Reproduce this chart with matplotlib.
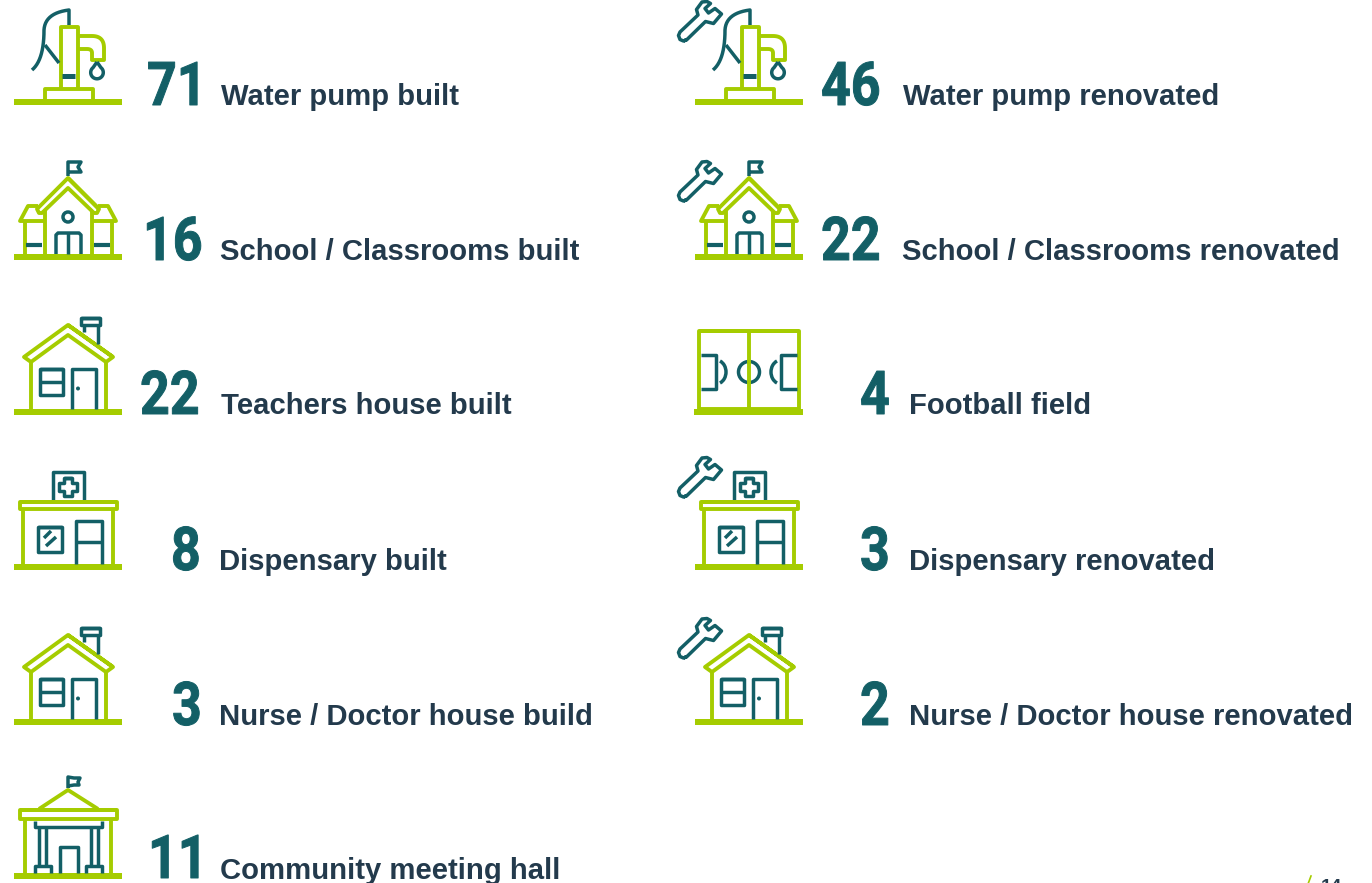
import numpy as np
import matplotlib
matplotlib.use("Agg")
import matplotlib.pyplot as plt
from matplotlib.patches import Circle, Arc, Rectangle
from matplotlib.patheffects import AbstractPathEffect
from matplotlib.transforms import Affine2D

# данные
LEFT_COUNTS = ["71", "16", "22", "8", "3", "11"]
LEFT_LABELS = ["Water pump built", "School / Classrooms built", "Teachers house built",
               "Dispensary built", "Nurse / Doctor house build", "Community meeting hall"]
RIGHT_COUNTS = ["46", "22", "4", "3", "2"]
RIGHT_LABELS = ["Water pump renovated", "School / Classrooms renovated", "Football field",
                "Dispensary renovated", "Nurse / Doctor house renovated"]
PAGE_NO = "14"

# положение текста (пиксели)
ROW_Y = [105, 260, 414, 570, 725, 879]
LEFT_NUM_X = [147, 143, 140, 171, 172, 148]
LEFT_LAB_X = [221, 220, 221, 219, 219, 220]
RIGHT_NUM_X = [821, 821, 860, 860, 860]
RIGHT_LAB_X = [903, 902, 909, 909, 909]

GREEN = "#a5cc00"
TEAL = "#135f66"
DARK = "#233a4c"
LW_G = 2.8
LW_T = 2.5
NUM_FONT = ["Roboto", "Liberation Sans", "DejaVu Sans"]
LAB_FONT = ["Liberation Sans", "DejaVu Sans"]
NUM_SIZE = 43.5
NUM_SQUEEZE = 0.86

fig = plt.figure(figsize=(13.72, 8.83), dpi=100)
ax = fig.add_axes([0, 0, 1, 1])
ax.set_xlim(0, 1372)
ax.set_ylim(883, 0)
ax.axis("off")


class Squeeze(AbstractPathEffect):
    # цифры в оригинале узкие, сжимаем текст по горизонтали
    def __init__(self, x_px, sx, width=0.7):
        super().__init__()
        self.x_px = x_px
        self.sx = sx
        self.width = width

    def draw_path(self, renderer, gc, tpath, affine, rgbFace):
        aff = affine + Affine2D().translate(-self.x_px, 0).scale(self.sx, 1).translate(self.x_px, 0)
        gc0 = renderer.new_gc()
        gc0.copy_properties(gc)
        gc0 = self._update_gc(gc0, {"linewidth": self.width, "foreground": rgbFace})
        renderer.draw_path(gc0, tpath, aff, rgbFace)
        gc0.restore()


def bez(p0, p1, p2, n=14):
    t = np.linspace(0, 1, n)[:, None]
    p0, p1, p2 = np.array(p0, float), np.array(p1, float), np.array(p2, float)
    return ((1 - t) ** 2 * p0 + 2 * t * (1 - t) * p1 + t ** 2 * p2).tolist()


def line(pts, dx=0, dy=0, color=TEAL, lw=LW_T, closed=False):
    pts = np.array(pts, dtype=float) + [dx, dy]
    if closed:
        pts = np.vstack([pts, pts[:2]])
    ax.plot(pts[:, 0], pts[:, 1], color=color, lw=lw, solid_capstyle="butt", solid_joinstyle="round")


def green(pts, dx=0, dy=0, closed=False):
    line(pts, dx, dy, GREEN, LW_G, closed)


def ground(y, x0=14, x1=122):
    ax.add_patch(Rectangle((x0, y - 6), x1 - x0, 6, fc=GREEN, ec="none"))


def ring(x, y, r, lw=LW_T, color=TEAL):
    ax.add_patch(Circle((x, y), r, fc="none", ec=color, lw=lw))


def wrench(y):
    # контур ключа в координатах правой колонки
    pts = [(687, 39.5), (683.5, 41), (680, 39.5), (678.5, 35.5), (680, 32), (698, 15), (696.5, 9.5), (702, 2),
           (707, 1.5), (710.5, 3.5), (705, 8.5), (708.5, 13), (715, 8.5), (721.5, 14), (713.5, 23.5), (705.5, 21.5)]
    line(pts, 0, y, closed=True)


def pump(dx, dy):
    ground(105 + dy, 14 + dx, 122 + dx)
    green([(45, 99), (45, 89), (93, 89), (93, 99)], dx, dy)
    green([(61, 89), (61, 27), (78, 27), (78, 89)], dx, dy)
    spout = [(78, 36), (92, 36)] + bez((92, 36), (104, 36), (104, 48)) + [(104, 60), (92, 60), (92, 53)] + bez((92, 53), (92, 49), (87, 49)) + [(78, 49)]
    green(spout, dx, dy)
    line([(62, 76), (75, 76)], dx, dy, lw=3.6)
    handle = [(69, 25), (69, 10)] + bez((69, 10), (45, 13), (44, 30)) + bez((44, 30), (44, 60), (32, 70))
    line(handle, dx, dy)
    line([(45, 45), (59, 63)], dx, dy)
    t = np.linspace(-0.9, np.pi + 0.9, 30)
    drop = [(97, 62)] + [(97 + 6.3 * np.cos(a), 72.5 + 6.3 * np.sin(a)) for a in t] + [(97, 62)]
    line(drop, dx, dy)


def school(dx, dy):
    ground(260 + dy, 14 + dx, 122 + dx)
    green([(68, 178), (99, 209), (97, 213), (94, 213), (68, 188), (42, 213), (39, 213), (37, 209)], dx, dy, closed=True)
    green([(45, 211), (45, 254)], dx, dy)
    green([(92, 211), (92, 254)], dx, dy)
    green([(38, 206), (28, 206), (20, 221), (44, 221)], dx, dy)
    green([(98, 206), (108, 206), (116, 221), (92, 221)], dx, dy)
    green([(25, 221), (25, 254)], dx, dy)
    green([(112, 221), (112, 254)], dx, dy)
    line([(26, 245), (42, 245)], dx, dy, lw=3)
    line([(94, 245), (110, 245)], dx, dy, lw=3)
    ring(68 + dx, 217 + dy, 5)
    line([(56, 254), (56, 235), (58, 233), (79, 233), (81, 235), (81, 254)], dx, dy)
    line([(68, 233), (68, 254)], dx, dy)
    line([(68, 176), (68, 162), (81, 162), (78, 167), (81, 172), (68, 172)], dx, dy)


def house(dx, dy):
    ground(415 + dy, 14 + dx, 122 + dx)
    green([(68, 325), (113, 357), (106, 362), (68, 335), (31, 362), (24, 357)], dx, dy, closed=True)
    green([(31, 362), (31, 409)], dx, dy)
    green([(106, 362), (106, 409)], dx, dy)
    line([(81, 318), (100, 318), (100, 325), (81, 325)], dx, dy, closed=True)
    line([(84, 325), (84, 332)], dx, dy)
    line([(98, 325), (98, 344)], dx, dy)
    line([(40, 369), (63, 369), (63, 395), (40, 395)], dx, dy, closed=True)
    line([(40, 382), (63, 382)], dx, dy)
    line([(72, 409), (72, 369), (96, 369), (96, 409)], dx, dy)
    ax.add_patch(Circle((78 + dx, 388.5 + dy), 2, fc=TEAL, ec="none"))


def dispensary(dx, dy):
    ground(570 + dy, 14 + dx, 122 + dx)
    line([(53, 501), (53, 472), (84, 472), (84, 501)], dx, dy)
    cross = [(64, 478), (72, 478), (72, 483), (77, 483), (77, 491), (72, 491), (72, 496), (64, 496),
             (64, 491), (59, 491), (59, 483), (64, 483)]
    line(cross, dx, dy, closed=True)
    green([(20, 502), (117, 502), (117, 509), (20, 509)], dx, dy, closed=True)
    green([(23, 510), (23, 564)], dx, dy)
    green([(113, 510), (113, 564)], dx, dy)
    line([(38, 527), (62, 527), (62, 552), (38, 552)], dx, dy, closed=True)
    line([(44, 538), (51, 531)], dx, dy)
    line([(46, 546), (56, 537)], dx, dy)
    line([(76, 564), (76, 521), (102, 521), (102, 564)], dx, dy)
    line([(76, 542), (102, 542)], dx, dy)


def hall():
    ground(879)
    green([(39, 809), (68, 790), (98, 809)])
    green([(20, 810), (117, 810), (117, 819), (20, 819)], closed=True)
    green([(25, 819), (25, 873)])
    green([(111, 819), (111, 873)])
    line([(35, 821), (35, 827), (102, 827), (102, 821)])
    for x in [39, 46, 91, 98]:
        line([(x, 827), (x, 866)])
    line([(35, 873), (35, 866), (51, 866), (51, 873)])
    line([(86, 873), (86, 866), (102, 866), (102, 873)])
    line([(60, 873), (60, 847), (78, 847), (78, 873)])
    line([(68, 788), (68, 777), (74, 778), (80, 778), (78, 782), (79, 785), (74, 785), (68, 786)])


def football():
    ground(415, 694, 803)
    green([(699, 331), (799, 331), (799, 409), (699, 409)], closed=True)
    green([(749, 331), (749, 409)])
    ring(749, 372, 10.5)
    line([(701, 355), (716, 355), (716, 389), (701, 389)])
    line([(797, 355), (781, 355), (781, 389), (797, 389)])
    ax.add_patch(Arc((716, 372), 20, 24, theta1=-70, theta2=70, ec=TEAL, lw=LW_T))
    ax.add_patch(Arc((781, 372), 20, 24, theta1=110, theta2=250, ec=TEAL, lw=LW_T))


def number(x, y, s):
    t = ax.text(x, y, s, family=NUM_FONT, weight="bold", fontsize=NUM_SIZE, color=TEAL, va="baseline")
    t.set_path_effects([Squeeze(x, NUM_SQUEEZE)])


# значки
pump(0, 0)
school(0, 0)
house(0, 0)
dispensary(0, 0)
house(0, 310)
hall()

pump(681, 0)
school(681, 0)
football()
dispensary(681, 0)
house(681, 310)
for wy in [0, 160, 456, 617]:
    wrench(wy)

# подписи
for i in range(len(LEFT_COUNTS)):
    number(LEFT_NUM_X[i], ROW_Y[i] - (1 if i == 5 else 0), LEFT_COUNTS[i])
    ax.text(LEFT_LAB_X[i], ROW_Y[i], LEFT_LABELS[i], family=LAB_FONT, weight="bold", fontsize=21.1, color=DARK, va="baseline")
for i in range(len(RIGHT_COUNTS)):
    number(RIGHT_NUM_X[i], ROW_Y[i], RIGHT_COUNTS[i])
    ax.text(RIGHT_LAB_X[i], ROW_Y[i], RIGHT_LABELS[i], family=LAB_FONT, weight="bold", fontsize=21.1, color=DARK, va="baseline")

# номер страницы внизу обрезан краем, как в оригинале
ax.plot([1308, 1311], [884, 876], color=GREEN, lw=1.2)
ax.text(1321, 892, PAGE_NO, family=LAB_FONT, weight="bold", fontsize=13.7, color=DARK, va="baseline")

fig.savefig("out.png", dpi=100)
